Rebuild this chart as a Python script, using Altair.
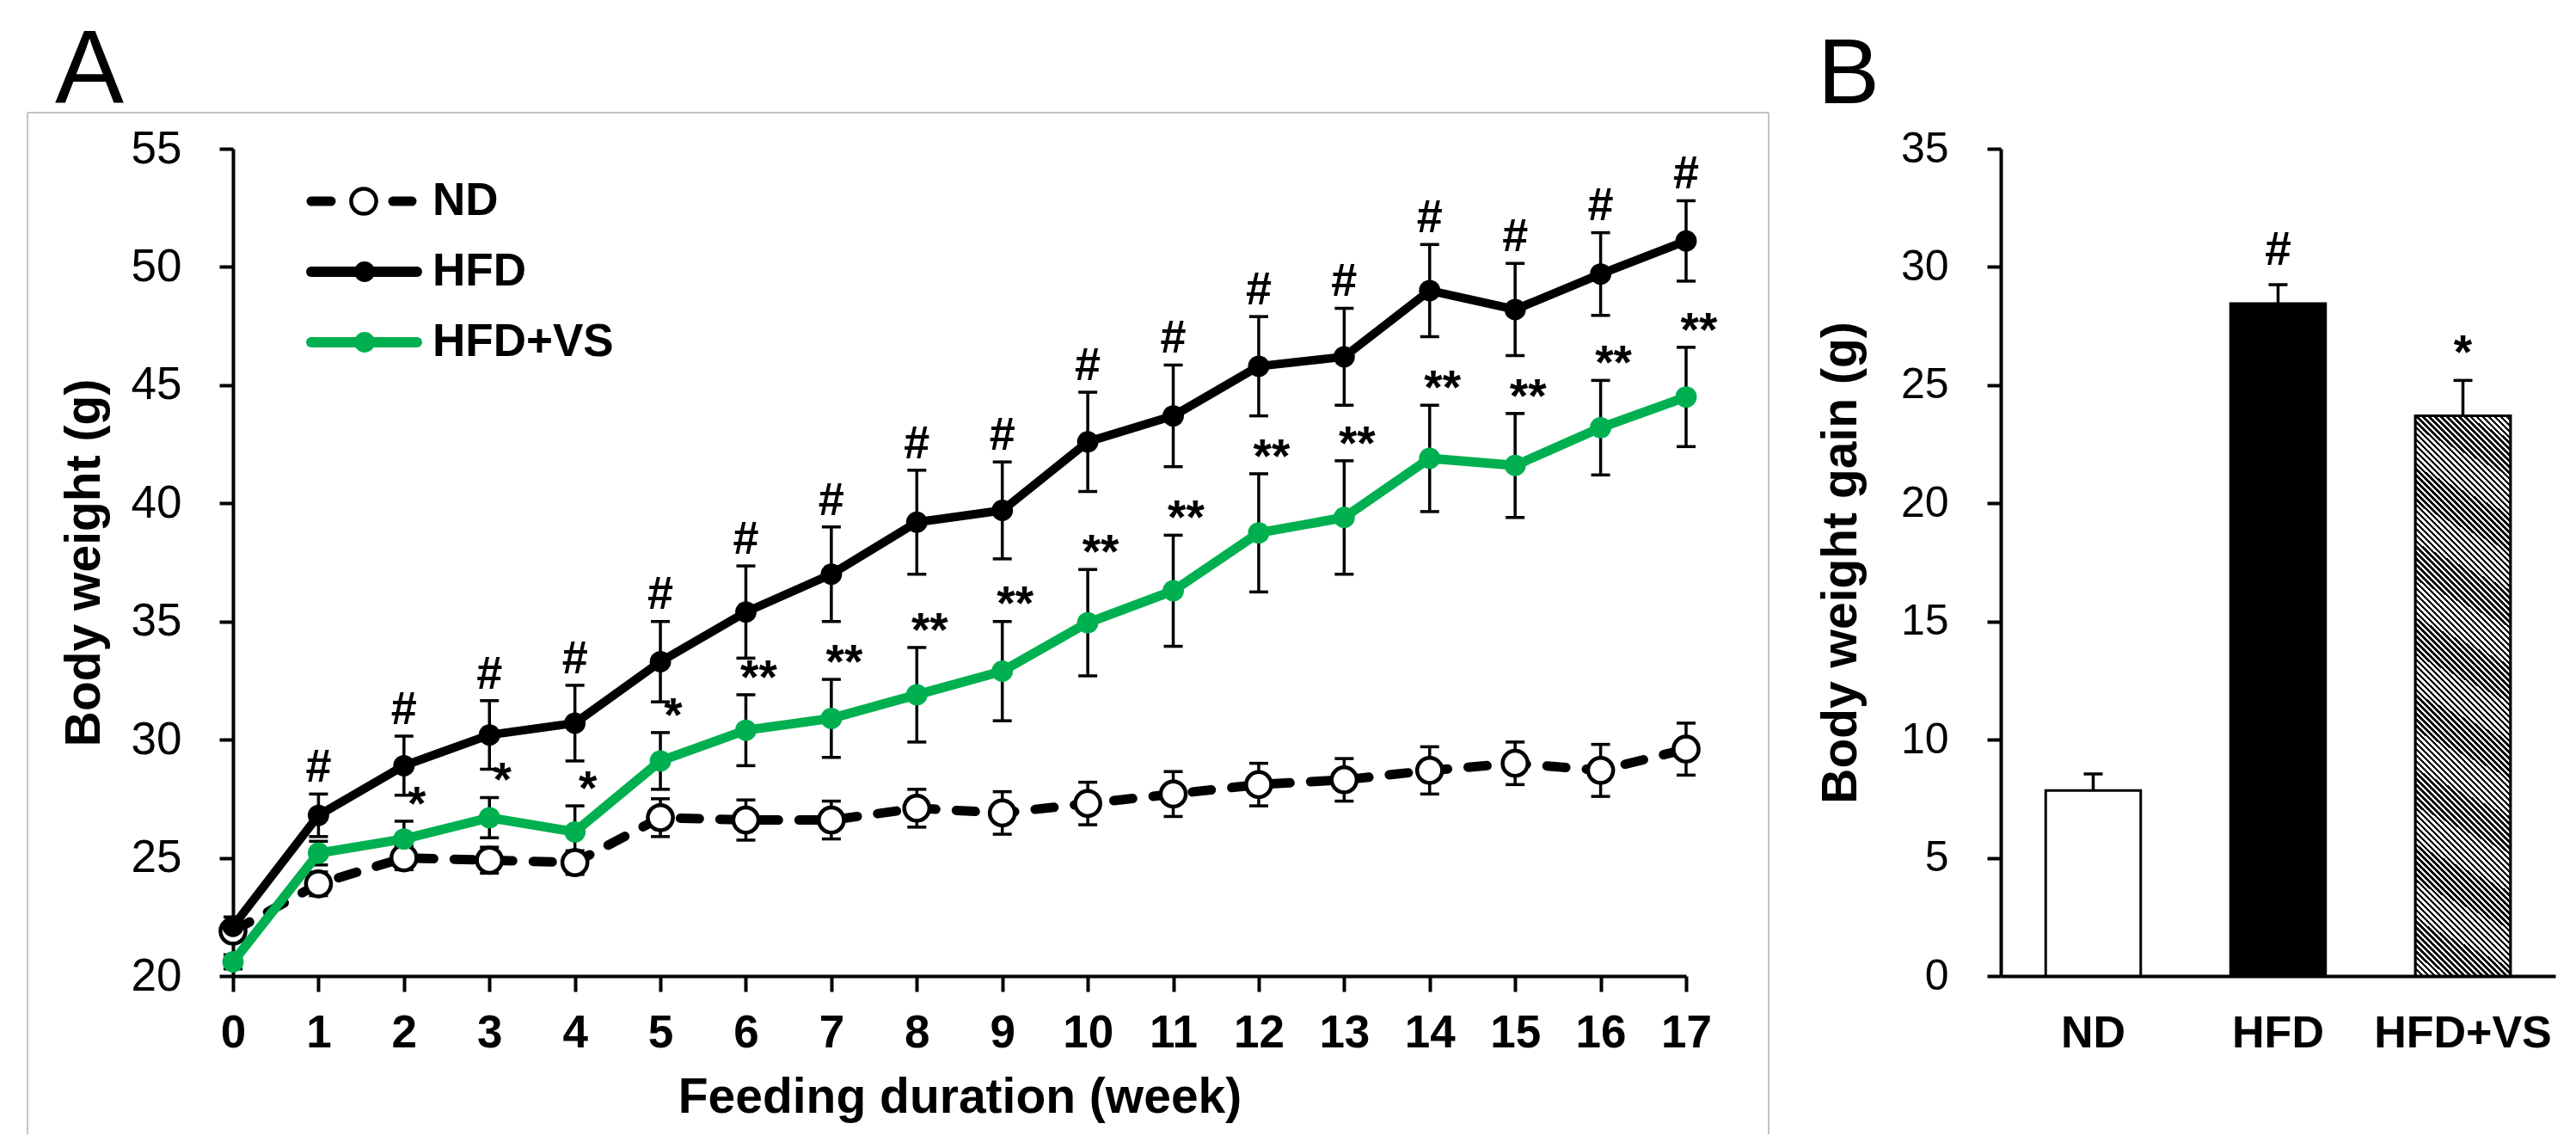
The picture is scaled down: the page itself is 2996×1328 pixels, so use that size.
import altair as alt
import pandas as pd

FONT = "Liberation Sans"
GREEN = "#00B050"

# ---------------- data ----------------
weeks = list(range(18))
series_names = ["ND", "HFD", "HFD+VS"]

nd_mean = [21.9, 23.9, 25.0, 24.9, 24.8, 26.7, 26.6, 26.6, 27.1, 26.9, 27.3, 27.7, 28.1, 28.3, 28.7, 29.0, 28.7, 29.6]
nd_se = [0.4, 0.5, 0.5, 0.55, 0.5, 0.8, 0.85, 0.8, 0.8, 0.9, 0.9, 0.95, 0.9, 0.9, 1.0, 0.9, 1.1, 1.1]

hfd_mean = [22.1, 26.8, 28.9, 30.2, 30.7, 33.3, 35.4, 37.0, 39.2, 39.7, 42.6, 43.7, 45.8, 46.2, 49.0, 48.2, 49.7, 51.1]
hfd_se = [0.4, 0.9, 1.25, 1.45, 1.6, 1.7, 1.95, 2.0, 2.2, 2.05, 2.1, 2.15, 2.1, 2.05, 1.95, 1.95, 1.75, 1.7]
hfd_sig = [""] + ["#"] * 17

vs_mean = [20.6, 25.2, 25.8, 26.7, 26.1, 29.1, 30.4, 30.9, 31.9, 32.9, 34.95, 36.3, 38.75, 39.4, 41.9, 41.6, 43.2, 44.5]
vs_se = [0.3, 0.5, 0.75, 0.85, 1.1, 1.2, 1.5, 1.65, 2.0, 2.1, 2.25, 2.35, 2.5, 2.4, 2.25, 2.2, 2.0, 2.1]
vs_sig = ["", "", "*", "*", "*", "*"] + ["**"] * 12

groups = ["ND", "HFD", "HFD+VS"]
gain_mean = [7.85, 28.45, 23.7]
gain_se = [0.7, 0.8, 1.5]
gain_sig = ["", "#", "*"]


def frame(mean, se, sig):
    return pd.DataFrame({
        "week": weeks,
        "mean": mean,
        "lo": [m - s for m, s in zip(mean, se)],
        "hi": [m + s for m, s in zip(mean, se)],
        "sig": sig,
    })


nd_df = frame(nd_mean, nd_se, [""] * len(weeks))
hfd_df = frame(hfd_mean, hfd_se, hfd_sig)
vs_df = frame(vs_mean, vs_se, vs_sig)
one = pd.DataFrame({"k": [0]})

# ---------------- panel A ----------------
x_scale = alt.Scale(domain=[0, 17], nice=False, zero=False)
y_scale = alt.Scale(domain=[20, 55], nice=False, zero=False)
x_axis = alt.Axis(values=weeks, title="Feeding duration (week)", grid=False, tickSize=18,
                  labelPadding=22, titlePadding=20, labelFontSize=53, labelFontWeight="bold",
                  titleFontSize=57, titleFontWeight="bold", labelFlush=False, labelOverlap=False)
y_axis = alt.Axis(values=list(range(20, 56, 5)), title="Body weight (g)", grid=False, tickSize=16,
                  labelPadding=44, titlePadding=25, labelFontSize=53, labelFontWeight="normal",
                  titleFontSize=57, titleFontWeight="bold", labelFlush=False)


def X(field="week"):
    return alt.X(f"{field}:Q", scale=x_scale, axis=x_axis)


def Y(field):
    return alt.Y(f"{field}:Q", scale=y_scale, axis=y_axis)


def errorbars(df):
    base = alt.Chart(df)
    stem = base.mark_rule(color="black", strokeWidth=3.5).encode(x=X(), y=Y("lo"), y2="hi")
    top = base.mark_rule(color="black", strokeWidth=3.5, xOffset=-11, x2Offset=11).encode(
        x=X(), x2="week", y=Y("hi"))
    bot = base.mark_rule(color="black", strokeWidth=3.5, xOffset=-11, x2Offset=11).encode(
        x=X(), x2="week", y=Y("lo"))
    return [stem, top, bot]


# light frame around panel A (open at the bottom, as in the figure)
frame_c = alt.Chart(one)
border = [
    frame_c.mark_rule(color="#c3c3c3", strokeWidth=2).encode(
        x=alt.value(-239), y=alt.value(-42), y2=alt.value(1146)),
    frame_c.mark_rule(color="#c3c3c3", strokeWidth=2).encode(
        x=alt.value(1786), y=alt.value(-42), y2=alt.value(1146)),
    frame_c.mark_rule(color="#c3c3c3", strokeWidth=2).encode(
        x=alt.value(-239), x2=alt.value(1786), y=alt.value(-42)),
]
label_a = alt.Chart(one).mark_text(text="A", fontSize=120, align="left", baseline="top", color="black").encode(
    x=alt.value(-207), y=alt.value(-149))

nd_line = alt.Chart(nd_df).mark_line(color="black", strokeWidth=11, strokeDash=[22, 24], strokeCap="round").encode(
    x=X(), y=Y("mean"))
nd_pts = alt.Chart(nd_df).mark_point(shape="circle", filled=True, fill="white", stroke="black", strokeWidth=4.5,
                                     size=850, opacity=1).encode(x=X(), y=Y("mean"))
hfd_line = alt.Chart(hfd_df).mark_line(color="black", strokeWidth=10, strokeJoin="round").encode(x=X(), y=Y("mean"))
hfd_pts = alt.Chart(hfd_df).mark_point(shape="circle", filled=True, color="black", size=620, opacity=1).encode(
    x=X(), y=Y("mean"))
vs_line = alt.Chart(vs_df).mark_line(color=GREEN, strokeWidth=11, strokeJoin="round").encode(x=X(), y=Y("mean"))
vs_pts = alt.Chart(vs_df).mark_point(shape="circle", filled=True, color=GREEN, size=620, opacity=1).encode(
    x=X(), y=Y("mean"))

hfd_txt = alt.Chart(hfd_df).transform_filter("datum.sig != ''").transform_calculate(
    ty="datum.hi + 1.1").mark_text(fontSize=54, fontWeight="bold", baseline="middle", color="black").encode(
    x=X(), y=Y("ty"), text="sig:N")
vs_txt = alt.Chart(vs_df).transform_filter("datum.sig != ''").transform_calculate(
    ty="datum.hi + 0.7").mark_text(fontSize=55, fontWeight="bold", baseline="middle", color="black", dx=15).encode(
    x=X(), y=Y("ty"), text="sig:N")

# hand-drawn legend (top-left of the plot area)
legend_layers = []
for i, name in enumerate(series_names):
    yp = 61 + 82 * i
    c = alt.Chart(pd.DataFrame({"label": [name]}))
    if name == "ND":
        legend_layers.append(c.mark_rule(color="black", strokeWidth=11, strokeCap="round").encode(
            x=alt.value(91), x2=alt.value(114), y=alt.value(yp)))
        legend_layers.append(c.mark_rule(color="black", strokeWidth=11, strokeCap="round").encode(
            x=alt.value(186), x2=alt.value(208), y=alt.value(yp)))
        legend_layers.append(c.mark_point(shape="circle", filled=True, fill="white", stroke="black",
                                          strokeWidth=4.5, size=850, opacity=1).encode(
            x=alt.value(152), y=alt.value(yp)))
    else:
        col = "black" if name == "HFD" else GREEN
        legend_layers.append(c.mark_rule(color=col, strokeWidth=12, strokeCap="round").encode(
            x=alt.value(91), x2=alt.value(214), y=alt.value(yp)))
        legend_layers.append(c.mark_point(shape="circle", filled=True, color=col, size=570, opacity=1).encode(
            x=alt.value(153), y=alt.value(yp)))
    legend_layers.append(c.mark_text(fontSize=53, fontWeight="bold", align="left", baseline="middle",
                                     color="black").encode(x=alt.value(232), y=alt.value(yp), text="label:N"))

panel_a = alt.layer(
    *border, label_a,
    *errorbars(nd_df), *errorbars(hfd_df), *errorbars(vs_df),
    nd_line, nd_pts, hfd_line, hfd_pts, vs_line, vs_pts,
    hfd_txt, vs_txt, *legend_layers,
).properties(width=1690, height=962)

# ---------------- panel B ----------------
bar_df = pd.DataFrame({
    "group": groups,
    "gain": gain_mean,
    "hi": [m + s for m, s in zip(gain_mean, gain_se)],
    "sig": gain_sig,
})

xB = alt.X("group:N", sort=groups, scale=alt.Scale(domain=groups, paddingInner=0.486, paddingOuter=0.243),
           axis=alt.Axis(title=None, labelAngle=0, ticks=False, tickSize=0, labelPadding=41, labelFontSize=52,
                         labelFontWeight="bold", grid=False, labelLimit=600))
yB_scale = alt.Scale(domain=[0, 35], nice=False, zero=True)
yB_axis = alt.Axis(values=list(range(0, 36, 5)), title="Body weight gain (g)", grid=False, tickSize=16,
                   labelPadding=45, titlePadding=40, labelFontSize=50, labelFontWeight="normal",
                   titleFontSize=57, titleFontWeight="bold", labelFlush=False)


def YB(field):
    return alt.Y(f"{field}:Q", scale=yB_scale, axis=yB_axis)


n_str = 110
stops = []
for i in range(n_str):
    a = i / n_str
    b = (i + 0.5) / n_str
    stops += [{"offset": a, "color": "white"}, {"offset": a, "color": "black"},
              {"offset": b, "color": "black"}, {"offset": b, "color": "white"}]
hatch = {"gradient": "linear", "x1": 0, "y1": 1, "x2": 0.1917, "y2": -0.1364, "stops": stops}

bars = alt.Chart(bar_df).mark_bar(stroke="black", strokeWidth=3).encode(
    x=xB, y=YB("gain"),
    fill=alt.Fill("group:N", scale=alt.Scale(domain=groups, range=["white", "black", "white"]), legend=None))
hatch_bar = alt.Chart(bar_df).transform_filter("datum.group == 'HFD+VS'").mark_bar(
    fill=hatch, stroke="black", strokeWidth=3).encode(x=xB, y=YB("gain"))
b_stem = alt.Chart(bar_df).mark_rule(color="black", strokeWidth=3.5).encode(x=xB, y=YB("gain"), y2="hi")
b_cap = alt.Chart(bar_df).mark_tick(color="black", size=22, thickness=3.5, opacity=1).encode(x=xB, y=YB("hi"))
b_txt = alt.Chart(bar_df).transform_filter("datum.sig != ''").transform_calculate(
    ty="datum.hi + (datum.sig == '*' ? 1.15 : 1.45)").mark_text(
    fontSize=55, fontWeight="bold", baseline="middle", color="black").encode(x=xB, y=YB("ty"), text="sig:N")
label_b = alt.Chart(one).mark_text(text="B", fontSize=108, align="left", baseline="top", color="black").encode(
    x=alt.value(-213), y=alt.value(-138))

panel_b = alt.layer(b_stem, b_cap, bars, hatch_bar, b_txt, label_b).properties(width=645, height=962)

chart = alt.hconcat(panel_a, panel_b, spacing=54).configure(
    padding={"left": 23, "top": 15, "right": 5, "bottom": 0}, font=FONT
).configure_view(stroke=None).configure_axis(
    domainColor="black", domainWidth=4, tickColor="black", tickWidth=4,
    labelColor="black", titleColor="black", labelFont=FONT, titleFont=FONT
).configure_text(font=FONT)

chart.save("out.html", embed_options={"renderer": "svg", "actions": False})
